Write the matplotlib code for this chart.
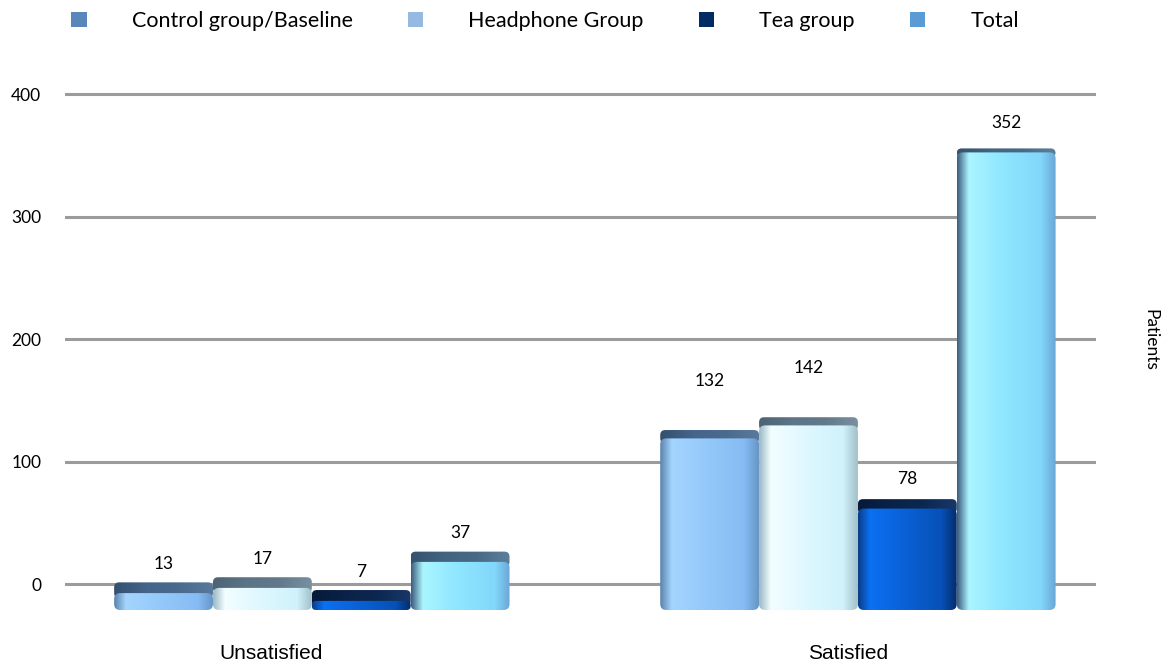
import numpy as np
import matplotlib
matplotlib.use('Agg')
from matplotlib import pyplot as plt
from matplotlib.patches import FancyBboxPatch, Patch
from matplotlib.colors import LinearSegmentedColormap

categories = ['Unsatisfied', 'Satisfied']
series = ['Control group/Baseline', 'Headphone Group', 'Tea group', 'Total']
control = [13, 132]
headphone = [17, 142]
tea = [7, 78]
total = [37, 352]
yticks = [0, 100, 200, 300, 400]

legend_colors = ['#5b86b9', '#95b9e0', '#002b63', '#5b9bd5']
# side-to-side shading of each bar body, and the darker top face
body_stops = [
    ['#5a82ac', '#a4d5ff', '#95c9fa', '#86bcf3', '#6796c6'],
    ['#9ab8c6', '#f2feff', '#e0f8ff', '#d0f2fb', '#a2bfca'],
    ['#0a3d88', '#0b70f2', '#0a62d8', '#0750b6', '#052c6a'],
    ['#3c5c7e', '#aaf5ff', '#90e7ff', '#82d7fa', '#6aa6d6'],
]
cap_stops = [
    ['#34506f', '#44648a', '#4a6a8e', '#5a7a9c'],
    ['#4c6474', '#5b7586', '#61798a', '#7890a0'],
    ['#061a3a', '#0a2248', '#0c2850', '#17386a'],
    ['#34526e', '#426480', '#486a86', '#5c809c'],
]

W, H = 1166, 668
fig = plt.figure(figsize=(W / 100, H / 100), dpi=100)
ax = fig.add_axes([65 / W, 1 - 620 / H, (1096 - 65) / W, 540 / H])
bx = ax.twinx()

x = np.arange(len(categories))
width = 0.181
offsets = (np.arange(len(series)) - 1.5) * width

# pixel scales used for rounding corners
px_x = 1 / 546.0
px_y = 1 / 1.3


def shade_bar(rect, stops, cstops):
    x0, y0 = rect.get_x(), rect.get_y()
    w, h = rect.get_width(), rect.get_height()
    h_px = h / px_y
    aspect = px_y / px_x

    # top face, seen slightly from above
    cap_px = 11 - 7 * h / 352.0
    ctop = y0 + h + cap_px * px_y
    cbot = y0 + h - 5 * px_y
    cap = FancyBboxPatch((x0, cbot), w, ctop - cbot,
                         boxstyle='round,pad=0,rounding_size=%f' % (5 * px_x),
                         mutation_aspect=aspect, fc='none', ec='none')
    bx.add_patch(cap)
    cmap = LinearSegmentedColormap.from_list('cap', cstops)
    im = bx.imshow(np.linspace(0, 1, 256)[None, :], extent=(x0, x0 + w, cbot, ctop),
                   cmap=cmap, aspect='auto', zorder=2, interpolation='bilinear')
    im.set_clip_path(cap)

    r = min(6, h_px / 2 - 0.5)
    body = FancyBboxPatch((x0, y0), w, h,
                          boxstyle='round,pad=0,rounding_size=%f' % (r * px_x),
                          mutation_aspect=aspect, fc='none', ec='none')
    bx.add_patch(body)
    pos = [0, 0.12, 0.45, 0.85, 1]
    cmap = LinearSegmentedColormap.from_list('body', list(zip(pos, stops)))
    im = bx.imshow(np.linspace(0, 1, 256)[None, :], extent=(x0, x0 + w, y0, y0 + h),
                   cmap=cmap, aspect='auto', zorder=3, interpolation='bilinear')
    im.set_clip_path(body)


values = [control, headphone, tea, total]
extra_lift = [[0, 20], [0, 20], [0, 0], [0, 0]]
for i, vals in enumerate(values):
    bars = bx.bar(x + offsets[i], vals, width, color='none', edgecolor='none')
    for j, rect in enumerate(bars):
        shade_bar(rect, body_stops[i], cap_stops[i])
        bx.annotate(str(vals[j]), (rect.get_x() + width / 2, vals[j]),
                    xytext=(0, 21 + extra_lift[i][j]), textcoords='offset points',
                    ha='center', va='center', fontsize=12.5, family='Lato',
                    color='black', zorder=5)

for v in yticks:
    ax.axhline(v, color='#9b9b9b', lw=2.2, zorder=0)

ax.set_xlim(-0.452, 1.436)
ax.set_ylim(-29.0, 411.8)
bx.set_ylim(-7.7, 407.7)

ax.set_yticks(yticks)
ax.set_yticklabels([str(v) for v in yticks], fontsize=12.5, family='Lato')
ax.tick_params(axis='y', length=0, pad=17)
ax.set_xticks(x + np.array([-0.074, -0.018]))
ax.set_xticklabels(categories, fontsize=15, family='Liberation Sans')
ax.tick_params(axis='x', length=0, pad=17)
for s in ax.spines.values():
    s.set_visible(False)
bx.axis('off')

fig.text(1150 / W, 1 - 340 / H, 'Patients', rotation=270, ha='center', va='center',
         fontsize=12.5, family='Lato')

handles = [Patch(facecolor=c, edgecolor='none') for c in legend_colors]
fig.legend(handles, series, loc='center left', bbox_to_anchor=(71 / W, 1 - 21 / H),
           ncol=4, frameon=False, prop={'family': 'Lato', 'size': 15.5},
           handlelength=0.72, handleheight=0.72, handletextpad=2.1,
           columnspacing=2.55, borderpad=0, borderaxespad=0)

fig.savefig('out.png', dpi=100)
